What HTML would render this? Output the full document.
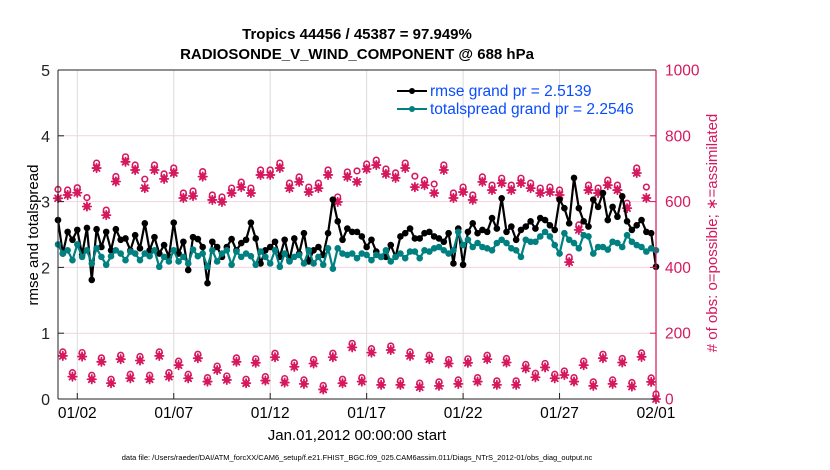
<!DOCTYPE html>
<html><head><meta charset="utf-8"><style>
body{margin:0;background:#fff;}
svg{display:block;font-family:"Liberation Sans",sans-serif;}
</style></head><body>
<svg id="chart" width="830" height="470" viewBox="0 0 830 470" xmlns="http://www.w3.org/2000/svg">
<g id="grid"></g>
<g id="marks"></g>
<g id="axes"></g>
<text x="357" y="39" font-size="15" font-weight="bold" text-anchor="middle">Tropics 44456 / 45387 = 97.949%</text>
<text x="357" y="59" font-size="15" font-weight="bold" text-anchor="middle">RADIOSONDE_V_WIND_COMPONENT @ 688 hPa</text>
<text x="357" y="440" font-size="15" text-anchor="middle">Jan.01,2012 00:00:00 start</text>
<text transform="translate(38,235) rotate(-90)" font-size="15" text-anchor="middle">rmse and totalspread</text>
<text transform="translate(717,233) rotate(-90)" font-size="15" fill="#d6185e" text-anchor="middle"># of obs: o=possible; ∗=assimilated</text>
<text x="357" y="460" font-size="7.5" text-anchor="middle">data file: /Users/raeder/DAI/ATM_forcXX/CAM6_setup/f.e21.FHIST_BGC.f09_025.CAM6assim.011/Diags_NTrS_2012-01/obs_diag_output.nc</text>
<g>
<line x1="397" y1="91" x2="427" y2="91" stroke="#000" stroke-width="2"/>
<circle cx="412" cy="91" r="3" fill="#000"/>
<text x="430" y="96" font-size="15.5" fill="#0a4cff">rmse grand pr = 2.5139</text>
<line x1="397" y1="109" x2="427" y2="109" stroke="#008080" stroke-width="2"/>
<circle cx="412" cy="109" r="3" fill="#008080"/>
<text x="430" y="114" font-size="15.5" fill="#0a4cff">totalspread grand pr = 2.2546</text>
</g>
</svg>
<script>
const xTickLabels = ["01/02","01/07","01/12","01/17","01/22","01/27","02/01"];
const xTickIndex = [4,24,44,64,84,104,124];
const leftTicks = [0,1,2,3,4,5];
const rightTicks = [0,200,400,600,800,1000];
const rmse = [2.72,2.21,2.54,2.42,2.57,2.19,2.6,1.81,2.58,2.31,2.54,2.26,2.58,2.42,2.44,2.26,2.49,2.29,2.67,2.26,2.46,2.21,2.34,2.16,2.68,2.21,2.39,1.96,2.46,2.43,2.31,1.76,
2.39,2.31,2.16,2.31,2.43,2.26,2.37,2.42,2.68,2.44,2.06,2.26,2.31,2.39,2.16,2.42,2.11,2.44,2.21,2.52,2.09,2.26,2.31,2.19,2.52,3.03,2.7,2.42,2.59,2.54,
2.54,2.47,2.31,2.42,2.24,2.16,2.16,2.34,2.16,2.47,2.52,2.59,2.44,2.44,2.52,2.54,2.47,2.44,2.39,2.52,2.06,2.59,2.04,2.54,2.67,2.52,2.57,2.54,2.75,2.59,
3.05,2.54,2.62,2.42,2.57,2.62,2.7,2.59,2.75,2.72,2.64,2.57,3.03,2.9,2.67,3.36,2.9,2.7,2.62,3.03,2.92,3.13,2.72,2.92,2.77,3.08,2.7,2.57,2.64,2.72,2.54,2.52,2.01];
const spread = [2.35,2.21,2.26,2.11,2.35,2.16,2.26,2.06,2.29,2.16,2.04,2.17,2.26,2.21,2.11,2.24,2.21,2.11,2.21,2.17,2.26,2.01,2.16,2.09,2.26,2.09,2.16,2.06,2.27,2.17,2.21,2.01,
2.26,2.09,2.21,2.26,2.04,2.24,2.16,2.21,2.17,2.04,2.24,2.16,2.06,2.26,2.01,2.21,2.09,2.16,2.19,2.06,2.26,2.06,2.16,2.04,2.29,1.98,2.29,2.21,2.19,2.21,
2.14,2.21,2.19,2.11,2.19,2.16,2.26,2.09,2.16,2.21,2.14,2.24,2.24,2.14,2.26,2.24,2.29,2.31,2.26,2.21,2.26,2.54,2.34,2.42,2.31,2.37,2.31,2.29,2.26,2.37,
2.42,2.37,2.29,2.26,2.16,2.42,2.39,2.39,2.47,2.54,2.47,2.34,2.21,2.52,2.42,2.37,2.29,2.49,2.47,2.21,2.31,2.31,2.27,2.39,2.37,2.31,2.49,2.39,2.34,2.31,2.24,2.29,2.26];
const obsTop = [610,620,627,585,702,559,661,721,696,641,696,669,687,611,617,676,605,599,626,644,626,681,681,702,641,660,629,641,681,599,675,660,699,711,684,672,702,644,650,626,696,611,629,605,660,635,656,635,656,641,626,629,620,416,514,635,626,650,635,580,687,611,0];
const obsBottom = [131,68,129,60,113,48,121,63,117,60,131,68,103,63,124,53,88,58,113,48,110,56,127,50,98,46,108,29,127,48,157,53,141,43,149,43,131,36,121,40,108,46,110,53,121,43,111,43,93,66,96,63,73,53,103,40,124,46,111,38,128,52];
const possibleExtraTop = [12,0,0,12,0,0,0,0,0,12,0,0,0,0,0,0,0,0,0,0,0,0,0,0,0,0,0,0,0,0,0,18,0,0,0,0,0,18,0,12,0,0,0,0,0,0,0,0,0,0,0,0,0,0,0,0,0,0,0,0,0,18,0];

const SVGNS="http://www.w3.org/2000/svg";
const L=58,R=656,T=70,B=399;
function xs(i){return L+i*(R-L)/124;}
function yl(v){return B-v*(B-T)/5;}
function yr(n){return B-n*(B-T)/1000;}
function mk(tag,attrs,parent){const e=document.createElementNS(SVGNS,tag);for(const k in attrs)e.setAttribute(k,attrs[k]);parent.appendChild(e);return e;}
const grid=document.getElementById('grid'),marks=document.getElementById('marks'),axes=document.getElementById('axes');
const PINK="#d6185e";

xTickIndex.forEach((ti,k)=>{
  const g=mk('line',{x1:xs(ti),x2:xs(ti),y1:T,y2:B,stroke:'#dcdcdc','stroke-width':1},grid);
  
  
  const t=mk('line',{x1:xs(ti),x2:xs(ti),y1:B,y2:B-6,stroke:'#222','stroke-width':1},axes);
  
  
  const lb=mk('text',{x:xs(ti),y:418,'font-size':15.5,'text-anchor':'middle'},axes);
  lb.textContent=xTickLabels[k];
  
  
});
rightTicks.forEach(n=>{
  if(n>0&&n<1000){const g=mk('line',{x1:L,x2:R,y1:yr(n),y2:yr(n),stroke:'#f2d2de','stroke-width':1},grid);
  
  }
  const t=mk('line',{x1:R-6,x2:R,y1:yr(n),y2:yr(n),stroke:PINK,'stroke-width':1},axes);
  
  
  const lb=mk('text',{x:665,y:yr(n)+5.5,'font-size':15.5,fill:PINK},axes);
  lb.textContent=n;
  
  
});
leftTicks.forEach(v=>{
  const t=mk('line',{x1:L,x2:L+6,y1:yl(v),y2:yl(v),stroke:'#222','stroke-width':1},axes);
  
  
  const lb=mk('text',{x:50,y:yl(v)+6,'font-size':16,'text-anchor':'end',fill:'#222'},axes);
  lb.textContent=v;
  
  
});
const ax1=mk('line',{x1:L,x2:L,y1:T,y2:B,stroke:'#222','stroke-width':1},axes);


const ax2=mk('line',{x1:L,x2:R,y1:B,y2:B,stroke:'#222','stroke-width':1},axes);


const ax3=mk('line',{x1:L,x2:R,y1:T,y2:T,stroke:'#222','stroke-width':1},axes);


const ax4=mk('line',{x1:R,x2:R,y1:T,y2:B,stroke:PINK,'stroke-width':1.2},axes);



function star(cx,cy,name){
  const g=mk('g',{stroke:PINK,'stroke-width':1.8,'stroke-linecap':'round'},marks);
  
  
  for(let a=0;a<4;a++){const th=a*Math.PI/4;const dx=4.2*Math.cos(th),dy=4.2*Math.sin(th);
    mk('line',{x1:cx-dx,y1:cy-dy,x2:cx+dx,y2:cy+dy},g);}
  mk('circle',{cx:cx,cy:cy,r:3,fill:PINK,stroke:'none'},g);
}
function ring(cx,cy,name){
  const c=mk('circle',{cx:cx,cy:cy,r:2.8,fill:'none',stroke:PINK,'stroke-width':1.6},marks);
  
  
}
obsTop.forEach((n,k)=>{const i=k*2;ring(xs(i),yr(n+possibleExtraTop[k])-5,'possible-obs');star(xs(i),yr(n),'assimilated-obs');});
obsBottom.forEach((n,k)=>{const i=k*2+1;ring(xs(i),yr(n)-4,'possible-obs');star(xs(i),yr(n),'assimilated-obs');});

function series(vals,color,name){
  const p=mk('polyline',{points:vals.map((v,i)=>xs(i)+','+yl(v)).join(' '),fill:'none',stroke:color,'stroke-width':2.2,'stroke-linejoin':'round'},marks);
  
  
  vals.forEach((v,i)=>{const c=mk('circle',{cx:xs(i),cy:yl(v),r:3.3,fill:color},marks);
    
    });
}
series(rmse,'#000','rmse');
series(spread,'#008080','totalspread');
</script>
</body></html>
